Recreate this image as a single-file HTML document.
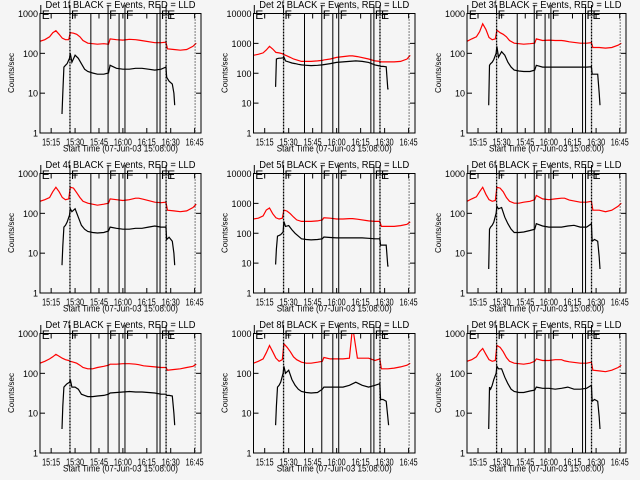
<!DOCTYPE html>
<html><head><meta charset="utf-8"><style>
html,body{margin:0;padding:0;background:#f5f5f5;}
svg{display:block;font-family:"Liberation Sans",sans-serif;}
</style></head><body>
<svg id="chart" width="640" height="480" viewBox="0 0 640 480" xmlns="http://www.w3.org/2000/svg">
<rect width="640" height="480" fill="#f5f5f5"/>
</svg>
<script>
const redTimes = [0,3,6,8,10,12,14,16,18,19,21,23,25,27,30,33,36,40,43,44,48,52,56,60,62,65,72,76,79,80,84,88,92,96,98];
const blackTimes = [13.8,14.3,15,16,17,18.5,19,20,22,24,26,28,30,33,36,40,43,44,48,52,56,60,64,68,72,76,79,79.5,81,83,84,84.5];
const detNames = ["1f","2f","3f","4f","5f","6f","7f","8f","9f"];
const yMaxDecades = [3,4,3,3,4,3,3,3,3];
const xTickTimes = [7,22,37,52,67,82,97];
const xTickLabels = ["15:15","15:30","15:45","16:00","16:15","16:30","16:45"];
const solidLineTimes = [31.9,42.7,49.6,53.3,73.4,75.3];
const denseDottedTimes = [18.8,79.1];
const sparseDottedTimes = [97.3];
const flagTimes = [0.5,18.8,42.7,53.3,75.3,79.1];
const flagLabels = ["E","F","F","F","F","E"];
const red1 = [200,220,260,330,370,300,240,220,220,330,320,300,260,210,180,175,170,175,170,230,220,215,225,220,215,205,185,185,190,130,125,120,125,150,180];
const red2 = [400,430,480,600,800,650,500,480,450,420,380,340,300,280,250,250,250,260,270,280,300,340,360,380,380,360,300,260,250,240,240,240,250,300,400];
const red3 = [200,230,260,350,550,400,250,220,230,380,330,300,260,210,180,175,170,175,180,230,210,215,210,210,205,195,180,180,185,140,140,135,140,160,180];
const red4 = [200,220,250,350,450,350,250,220,230,450,430,330,250,200,180,170,160,170,180,230,220,210,220,240,240,225,190,185,190,120,115,110,115,140,170];
const red5 = [300,320,380,600,700,450,330,300,320,600,550,450,350,280,250,250,250,260,280,330,320,300,300,310,310,295,260,250,250,170,170,170,180,200,240];
const red6 = [200,230,260,350,450,300,220,200,210,450,430,350,250,200,180,180,190,200,220,280,230,220,230,240,240,215,190,190,200,120,120,110,120,150,180];
const red7 = [180,200,230,260,300,270,240,220,210,200,190,180,160,140,130,130,140,150,160,170,170,175,175,170,165,155,145,140,140,120,125,130,140,150,170];
const red8 = [180,200,230,330,500,350,240,200,220,550,450,350,260,220,190,180,180,190,200,250,230,230,230,240,1500,240,240,210,230,130,130,135,145,160,180];
const red9 = [200,220,260,350,420,300,220,200,210,500,450,350,250,200,180,175,170,180,200,230,210,210,220,220,205,195,180,180,190,120,115,110,120,140,160];
const black1 = [3,10,45,50,55,75,100,60,90,75,55,40,35,32,30,30,32,50,42,40,40,42,42,40,38,40,45,25,20,17,10,5];
const black2 = [35,300,310,320,320,330,350,260,240,220,210,200,190,185,180,185,190,195,210,230,240,250,260,250,230,190,175,170,170,165,30,30];
const black3 = [5,50,55,60,70,100,150,80,110,90,60,45,38,36,35,35,38,50,45,45,45,45,45,45,45,45,46,30,30,30,10,5];
const black4 = [5,15,45,50,60,90,130,110,130,80,50,40,35,33,32,33,36,45,42,40,40,42,42,45,48,45,45,22,25,20,10,5];
const black5 = [9,30,80,85,90,110,250,170,180,130,100,80,65,62,60,62,65,75,72,70,70,70,70,70,68,65,65,40,40,40,8,8];
const black6 = [4,40,45,50,60,100,150,130,140,80,55,40,33,33,34,37,40,55,48,45,45,45,48,50,45,45,55,20,22,20,8,4];
const black7 = [4,15,45,50,55,60,70,45,45,40,30,28,26,26,27,28,30,32,33,34,35,34,34,33,32,30,30,28,28,27,10,5];
const black8 = [5,15,45,50,60,100,150,100,120,70,50,40,35,33,32,33,40,45,45,45,45,50,60,50,45,50,55,22,22,20,8,5];
const black9 = [4,45,40,50,70,100,150,130,130,80,55,40,35,33,33,36,38,45,42,42,40,42,45,40,40,42,50,20,22,20,8,4];
const redSeries = [red1,red2,red3,red4,red5,red6,red7,red8,red9];
const blackSeries = [black1,black2,black3,black4,black5,black6,black7,black8,black9];

const NS = "http://www.w3.org/2000/svg";
const svg = document.getElementById("chart");
const colX = [[40,201],[253.5,415],[467,626]];
const T_MAX = 101;
function mk(tag, attrs, parent){
  const e = document.createElementNS(NS, tag);
  for (const k in attrs) e.setAttribute(k, attrs[k]);
  (parent||svg).appendChild(e);
  return e;
}
for (let p = 0; p < 9; p++) {
  const col = p % 3, row = Math.floor(p / 3);
  const x0 = colX[col][0], x1 = colX[col][1];
  const off = row * 160;
  const y0 = off + 13.5, y1 = off + 133;
  const dec = yMaxDecades[p];
  const xs = t => x0 + t * (x1 - x0) / T_MAX;
  const ys = v => y1 - Math.log10(Math.max(v, 1e-3)) / dec * (y1 - y0);
  const g = mk("g", {});
  
  
  const clipId = "clip" + p;
  const cp = mk("clipPath", {id: clipId}, g);
  mk("rect", {x: x0, y: y0, width: x1 - x0, height: y1 - y0}, cp);
  const title = mk("text", {x: (x0 + x1) / 2, y: off + 8, "text-anchor": "middle", "font-size": "10", textLength: 150, lengthAdjust: "spacingAndGlyphs", fill: "#000"}, g);
  title.textContent = "Det " + detNames[p] + " BLACK = Events, RED = LLD";
  
  
  const yl = mk("text", {x: 0, y: 0, "text-anchor": "middle", "font-size": "8", fill: "#000", transform: "translate(" + (x0 - 26) + "," + (off + 73) + ") rotate(-90)"}, g);
  yl.textContent = "Counts/sec";
  
  
  const xl = mk("text", {x: (x0 + x1) / 2, y: off + 151.5, "text-anchor": "middle", "font-size": "9.5", textLength: 115, lengthAdjust: "spacingAndGlyphs", fill: "#000"}, g);
  xl.textContent = "Start Time (07-Jun-03 15:08:00)";
  
  
  for (let d = 0; d <= dec; d++) {
    const y = ys(Math.pow(10, d));
    mk("line", {x1: x0, x2: x0 + 5, y1: y, y2: y, stroke: "#000", "stroke-width": 1}, g);
    mk("line", {x1: x1 - 5, x2: x1, y1: y, y2: y, stroke: "#000", "stroke-width": 1}, g);
    const tl = mk("text", {x: x0 - 2, y: y + 3.5, "text-anchor": "end", "font-size": "9", fill: "#000"}, g);
    tl.textContent = String(Math.pow(10, d));
    
    
  }
  for (let i = 0; i < xTickTimes.length; i++) {
    const x = xs(xTickTimes[i]);
    mk("line", {x1: x, x2: x, y1: y1, y2: y1 - 5, stroke: "#000", "stroke-width": 1}, g);
    mk("line", {x1: x, x2: x, y1: y0, y2: y0 + 5, stroke: "#000", "stroke-width": 1}, g);
    const tl = mk("text", {x: x, y: off + 145.5, "text-anchor": "middle", "font-size": "10", textLength: 18, lengthAdjust: "spacingAndGlyphs", fill: "#000"}, g);
    tl.textContent = xTickLabels[i];
    
    
  }
  const rp = redTimes.map((t, i) => xs(t).toFixed(1) + "," + ys(redSeries[p][i]).toFixed(1)).join(" ");
  const rl = mk("polyline", {points: rp, fill: "none", stroke: "#ff0000", "stroke-width": 1.2, "clip-path": "url(#" + clipId + ")"}, g);
  
  
  const bp = blackTimes.map((t, i) => xs(t).toFixed(1) + "," + ys(blackSeries[p][i]).toFixed(1)).join(" ");
  const bl = mk("polyline", {points: bp, fill: "none", stroke: "#000", "stroke-width": 1.2, "clip-path": "url(#" + clipId + ")"}, g);
  
  
  solidLineTimes.forEach(t => {
    const l = mk("line", {x1: xs(t), x2: xs(t), y1: y0, y2: y1, stroke: "#000", "stroke-width": 1}, g);
    
    
  });
  denseDottedTimes.forEach(t => {
    const l = mk("line", {x1: xs(t), x2: xs(t), y1: y0, y2: y1, stroke: "#000", "stroke-width": 1.3, "stroke-dasharray": "2,1"}, g);
    
    
  });
  sparseDottedTimes.forEach(t => {
    const l = mk("line", {x1: xs(t), x2: xs(t), y1: y0, y2: y1, stroke: "#000", "stroke-width": 1, "stroke-dasharray": "1,2"}, g);
    
    
  });
  flagTimes.forEach((t, i) => {
    const x = xs(t);
    mk("line", {x1: x, x2: x, y1: off + 5, y2: y0, stroke: "#000", "stroke-width": 1}, g);
    const f = mk("text", {x: x + 1, y: off + 19, "font-size": "12", fill: "#000"}, g);
    f.textContent = flagLabels[i];
    
    
  });
  const fr = mk("rect", {x: x0, y: y0, width: x1 - x0, height: y1 - y0, fill: "none", stroke: "#000", "stroke-width": 1}, g);
  
  
}
</script>
</body></html>
